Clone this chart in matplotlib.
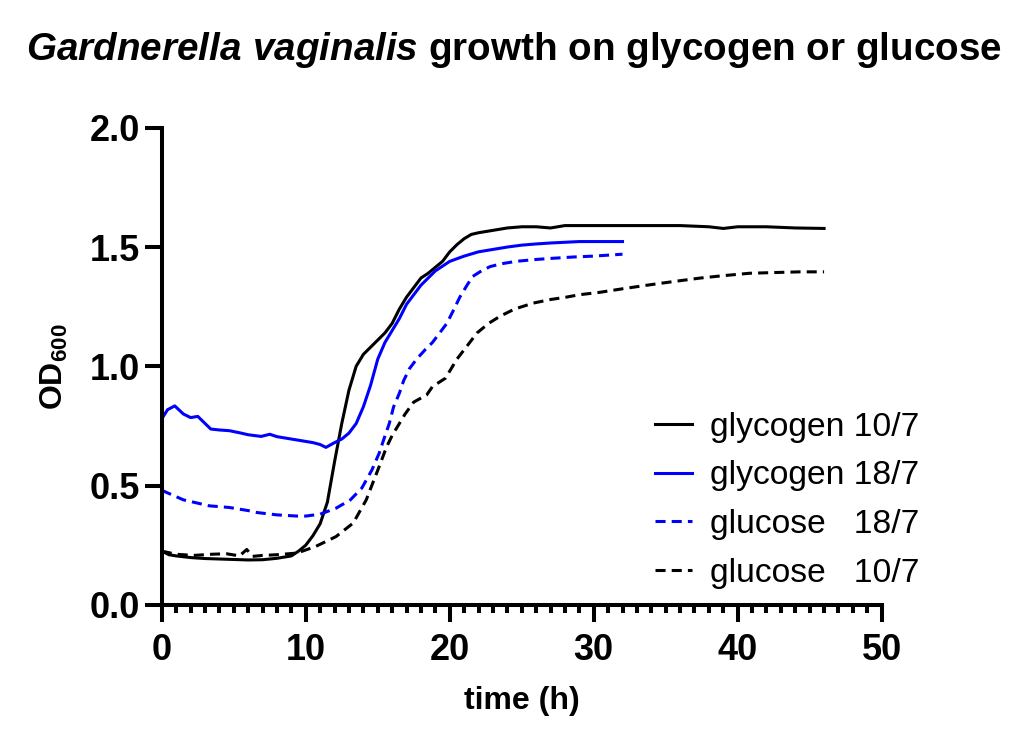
import matplotlib.pyplot as plt
from matplotlib.ticker import MultipleLocator

plt.rcParams["font.family"] = ["Liberation Sans", "DejaVu Sans"]
plt.rcParams["mathtext.fontset"] = "custom"
plt.rcParams["mathtext.rm"] = "Liberation Sans:bold"
plt.rcParams["mathtext.it"] = "Liberation Sans:bold:italic"

# glycogen 10/7 (black solid)
t_gly107 = [0, 0.5, 1, 2, 3, 4, 5, 6, 7, 8, 9, 9.5, 10, 10.5, 11, 11.5, 12, 12.5,
            13, 13.5, 14, 14.5, 15, 15.5, 16, 16.5, 17, 17.5, 18, 18.5, 19, 19.5,
            20, 20.5, 21, 21.5, 22, 23, 24, 25, 26, 27, 28, 29, 30, 32, 34, 36,
            38, 39, 40, 42, 44, 46]
od_gly107 = [0.225, 0.21, 0.205, 0.198, 0.194, 0.192, 0.19, 0.188, 0.189, 0.195,
             0.205, 0.225, 0.25, 0.29, 0.34, 0.43, 0.60, 0.76, 0.90, 1.0, 1.05,
             1.08, 1.11, 1.14, 1.18, 1.24, 1.29, 1.33, 1.37, 1.39, 1.415, 1.44,
             1.48, 1.51, 1.535, 1.553, 1.56, 1.57, 1.58, 1.585, 1.585, 1.58, 1.59,
             1.59, 1.59, 1.59, 1.59, 1.59, 1.585, 1.578, 1.585, 1.585, 1.58, 1.578]

# glycogen 18/7 (blue solid)
t_gly187 = [0, 0.4, 0.9, 1.5, 2, 2.5, 3.4, 4, 4.7, 5.5, 6, 6.9, 7.5, 8, 9, 10,
            10.5, 11, 11.4, 12, 12.5, 13, 13.5, 14, 14.5, 15, 15.5, 16, 16.5, 17,
            17.5, 18, 18.5, 19, 19.5, 20, 21, 22, 23, 24, 25, 26, 27, 28, 29, 30,
            31, 32]
od_gly187 = [0.78, 0.818, 0.834, 0.80, 0.785, 0.79, 0.737, 0.733, 0.73, 0.72,
             0.713, 0.706, 0.715, 0.705, 0.695, 0.685, 0.68, 0.672, 0.66, 0.68,
             0.695, 0.72, 0.76, 0.83, 0.92, 1.03, 1.10, 1.15, 1.20, 1.26, 1.30,
             1.34, 1.37, 1.40, 1.42, 1.44, 1.462, 1.48, 1.49, 1.50, 1.508, 1.513,
             1.517, 1.52, 1.523, 1.523, 1.523, 1.523]

# glucose 18/7 (blue dashed)
t_glu187 = [0, 1.5, 3.3, 4.7, 6, 6.6, 8, 9.4, 10, 11, 12.1, 13.1, 13.9, 14.6,
            15.1, 15.4, 15.8, 16.1, 16.5, 16.8, 17.2, 17.7, 18.3, 18.8, 19.3,
            19.8, 20.3, 20.7, 21.2, 21.6, 22.2, 22.8, 23.6, 24.6, 26, 27.2, 28.5,
            30, 32]
od_glu187 = [0.48, 0.44, 0.415, 0.408, 0.395, 0.387, 0.377, 0.372, 0.372, 0.38,
             0.405, 0.44, 0.49, 0.566, 0.636, 0.69, 0.76, 0.83, 0.887, 0.94, 0.99,
             1.03, 1.07, 1.10, 1.14, 1.18, 1.24, 1.29, 1.34, 1.377, 1.40, 1.418,
             1.43, 1.44, 1.448, 1.453, 1.458, 1.462, 1.47]

# glucose 10/7 (black dashed)
t_glu107 = [0, 1, 2.2, 3.5, 4.5, 5.4, 5.9, 6.3, 7, 8, 9.4, 10.7, 12.1, 13.3, 14.2,
            15.1, 15.6, 16.0, 16.9, 17.5, 18.4, 18.8, 19.7, 20.5, 21.2, 21.9,
            22.7, 23.5, 24.5, 25.8, 27, 28.1, 29, 30.4, 32, 33.7, 35.5, 37.4, 39,
            40.8, 42.5, 44.3, 46]
od_glu107 = [0.225, 0.212, 0.207, 0.212, 0.214, 0.205, 0.232, 0.203, 0.207, 0.21,
             0.217, 0.245, 0.286, 0.343, 0.44, 0.58, 0.66, 0.71, 0.80, 0.85, 0.88,
             0.915, 0.95, 1.03, 1.085, 1.14, 1.18, 1.21, 1.24, 1.265, 1.28, 1.29,
             1.30, 1.31, 1.325, 1.34, 1.355, 1.37, 1.38, 1.39, 1.393, 1.396, 1.396]

fig = plt.figure(figsize=(10.24, 7.43), dpi=100)
ax = fig.add_axes([0.158, 0.186, 0.703, 0.642])

lw = 2.2
dash = (3.3, 2)
ax.plot(t_gly107, od_gly107, color="black", lw=lw, label="glycogen 10/7")
ax.plot(t_gly187, od_gly187, color="#0000ff", lw=lw, label="glycogen 18/7")
ax.plot(t_glu187, od_glu187, color="#0000ff", lw=lw, dashes=dash,
        label="glucose   18/7")
ax.plot(t_glu107, od_glu107, color="black", lw=lw, dashes=dash,
        label="glucose   10/7")

ax.set_xlim(0, 50)
ax.set_ylim(0, 2.0)
ax.xaxis.set_major_locator(MultipleLocator(10))
ax.xaxis.set_minor_locator(MultipleLocator(1))
ax.yaxis.set_major_locator(MultipleLocator(0.5))
ax.yaxis.set_major_formatter(plt.FormatStrFormatter("%.1f"))

for s in ["top", "right"]:
    ax.spines[s].set_visible(False)
for s in ["left", "bottom"]:
    ax.spines[s].set_linewidth(2.9)

ax.tick_params(which="major", length=12, width=2.9, direction="out",
               labelsize=26)
ax.tick_params(axis="x", which="major", pad=8)
ax.tick_params(axis="y", which="major", pad=3.5)
ax.tick_params(which="minor", length=6, width=2.9, direction="out")
for lab in ax.get_xticklabels() + ax.get_yticklabels():
    lab.set_fontweight("bold")

ax.set_xlabel("time (h)", fontsize=23, fontweight="bold", labelpad=13)
ax.set_ylabel("OD$_{600}$", fontsize=23, fontweight="bold", labelpad=14)

fig.suptitle(r"$\it{Gardnerella\ vaginalis}$ growth on glycogen or glucose",
             fontsize=27.8, fontweight="bold", x=0.502, y=0.96)

ax.legend(loc="upper left", bbox_to_anchor=(0.685, 0.405), frameon=False,
          fontsize=24.2, handlelength=1.1, handletextpad=0.54,
          labelspacing=0.53, borderpad=0, borderaxespad=0)

fig.savefig("out.png", dpi=100)
